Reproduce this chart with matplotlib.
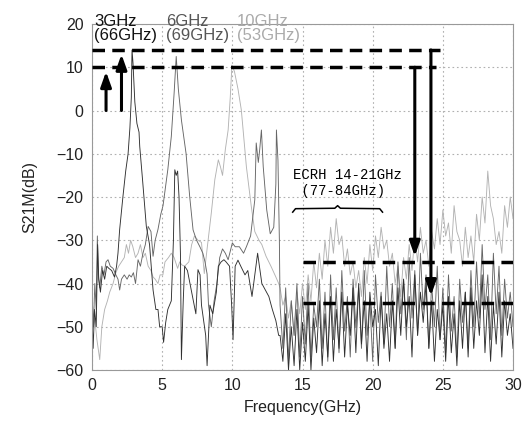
import numpy as np
import matplotlib
matplotlib.use("Agg")
import matplotlib.pyplot as plt

plt.rcParams["font.family"] = ["Liberation Sans", "DejaVu Sans"]

# ---------------------------------------------------------------------------
# Data (GHz, dB)
# ---------------------------------------------------------------------------

# 3 GHz filter, below the noisy band
f3_lo = [0.0, 0.08, 0.18, 0.3, 0.4, 0.48, 0.6, 0.75, 0.9, 1.05, 1.2, 1.4, 1.6,
         1.75, 1.85, 1.97, 2.2, 2.4, 2.57, 2.7, 2.8, 2.85, 2.92, 3.05, 3.2,
         3.35, 3.4, 3.6, 3.87, 4.1, 4.35, 4.55, 4.7, 4.82, 5.0, 5.1, 5.25,
         5.4, 5.65, 5.8, 5.9, 6.0, 6.1, 6.2, 6.3, 6.37, 6.5, 6.6, 6.8, 7.1,
         7.4, 7.55, 7.7, 7.8, 8.1, 8.2, 8.4, 8.6, 8.86, 9.0, 9.2, 9.4, 9.55,
         9.8, 9.95, 10.05, 10.2, 10.4, 10.6, 10.9, 11.1, 11.4, 11.6, 11.8,
         12.1, 12.35, 12.6, 12.85, 13.1, 13.3]
s3_lo = [-47, -55, -46, -50, -31, -39, -42, -37, -39, -36, -36.5, -37, -38.5,
         -36, -33, -27.5, -20, -14, -10, -4, 3, 14, 11, 2, -3,
         -5, -8.3, -16, -26.8, -31, -41.5, -46, -46, -50, -50, -53.6, -49,
         -46, -44, -30, -13.7, -15, -14, -20, -33, -57.6, -44, -36, -37, -42,
         -47, -36.8, -38, -45, -52, -59, -45, -47, -42, -36, -35, -34.5, -35,
         -36, -45, -53, -36, -34.6, -36, -38, -37, -43, -38, -33,
         -40, -41.5, -43, -46, -48.6, -52]

# 6 GHz filter, below the noisy band
f6_lo = [0.0, 0.1, 0.2, 0.3, 0.38, 0.45, 0.55, 0.7, 0.85, 1.0, 1.14, 1.3,
         1.5, 1.7, 1.85, 1.97, 2.1, 2.3, 2.5, 2.65, 2.8, 2.95, 3.1, 3.28,
         3.45, 3.63, 3.8, 4.0, 4.2, 4.35, 4.5, 4.7, 4.9, 5.06, 5.4, 5.65,
         5.85, 6.0, 6.15, 6.37, 6.7, 6.96, 7.2, 7.45, 7.67, 7.9, 8.05, 8.2,
         8.3, 8.5, 8.7, 8.9, 9.1, 9.3, 9.5, 9.7, 10.0, 10.2, 10.5, 10.8,
         11.0, 11.3, 11.6, 11.7, 11.85, 11.95, 12.07, 12.2, 12.45, 12.7,
         12.95, 13.1, 13.14, 13.25, 13.35]
s6_lo = [-42, -50, -40, -46, -29, -38, -41, -36, -38, -35, -34.5, -36,
         -36.5, -38, -39, -41.5, -39, -38, -39, -38, -38.5, -37.5, -40, -34.5,
         -36, -33, -31, -26.8, -28, -33.7, -30, -27.5, -24, -22, -13.7, -6,
         4, 12.5, 5, -2.2, -9.9, -19.9, -27.6, -30, -31.4, -33, -35, -37.8,
         -45, -50, -44, -40, -34, -32, -33, -34.5, -30.6, -31.5, -31.5, -33,
         -31.5, -29, -20.6, -7.5, -12, -9, -4.5, -13, -23, -28.5,
         -27, -17, -4.5, -11.5, -30]

# 10 GHz filter, below the noisy band
f10_lo = [0.0, 0.19, 0.35, 0.55, 0.7, 0.9, 1.1, 1.26, 1.5, 1.7, 1.9, 2.1,
          2.3, 2.45, 2.6, 2.75, 2.9, 3.1, 3.28, 3.45, 3.63, 3.8, 4.0, 4.2,
          4.35, 4.5, 4.7, 4.85, 5.05, 5.2, 5.45, 5.65, 5.85, 6.1, 6.25, 6.4,
          6.6, 6.9, 7.1, 7.3, 7.55, 7.8, 8.0, 8.2, 8.5, 8.75, 9.0, 9.15, 9.3,
          9.5, 9.7, 9.85, 9.97, 10.15, 10.4, 10.64, 11.0, 11.35, 11.6, 11.9,
          12.1, 12.4, 12.75, 13.1, 13.3]
s10_lo = [-52, -48, -53, -57.6, -50, -46, -44, -42, -40, -37.5, -36, -35,
          -34, -31, -33, -30, -31.4, -34, -33, -31, -34, -33, -36, -37,
          -38.5, -39, -40, -38, -38, -35, -34, -33, -34, -36.5, -35, -35.7,
          -36, -35, -31, -29, -30, -30.5, -37.7, -32, -23.7, -16, -11.4, -13, -15,
          -9, -4.5, 3, 10.5, 9, 5, 0.1, -13, -22.2, -28, -30,
          -31, -33.7, -36, -38.5, -40]

# noisy band 13.4 - 30 GHz, sampled every 0.2 GHz
f_hi = np.linspace(13.4, 30.0, 84)
s3_hi = [-52, -58, -47, -60, -50, -59, -46, -60,
         -49, -58, -45, -60, -48, -56, -44, -59, -47, -57,
         -43, -58, -46, -55, -42, -57, -45, -52, -41, -56,
         -40, -54, -44, -58, -42, -50, -46, -59, -43, -55,
         -47, -58, -44, -55, -41, -52, -39, -50, -43, -57,
         -38, -52, -42, -49, -40, -55, -44, -58, -46, -53,
         -45, -58, -43, -56, -47, -59, -44, -55, -42, -57,
         -41, -55, -44, -52, -38, -56, -43, -58, -45, -54,
         -42, -57, -44, -52, -47, -55]
s6_hi = [-45, -55, -41, -58, -44, -52, -40, -57,
         -43, -54, -40, -57, -45, -50, -39, -55, -42, -58,
         -38, -53, -41, -56, -37, -51, -43, -57, -39, -50,
         -41, -55, -37, -52, -44, -58, -38, -49, -42, -54,
         -36, -50, -40, -55, -35, -47, -39, -53, -34, -48,
         -37, -52, -33, -46, -38, -55, -40, -50, -36, -53,
         -41, -56, -38, -51, -43, -57, -39, -49, -42, -55,
         -37, -50, -35, -48, -31, -46, -38, -53, -33, -47,
         -36, -52, -39, -48, -42, -50]
s10_hi = [-41, -45, -43, -48, -44, -52, -42, -47,
          -40, -46, -38, -44, -35, -41, -33, -39, -30, -36,
          -27, -33, -25, -31, -29, -36, -32, -38, -35, -41,
          -37, -43, -34, -40, -31, -37, -29, -34, -27, -32,
          -30, -36, -33, -40, -36, -43, -34, -39, -31, -37,
          -29, -35, -27, -33, -30, -36, -28, -32, -25, -31,
          -23, -29, -26, -33, -22, -28, -30, -36, -27, -34,
          -29, -35, -24, -30, -20, -26, -14, -22, -25, -31,
          -28, -33, -22, -27, -20, -25]

# reference levels (dB) and their frequency spans (GHz)
pass_levels = [14, 10]
pass_span = [[0, 24.8], [0, 24.5]]
stop_levels = [-35, -44.5]
stop_span = [[15, 30], [15, 30]]

labels = ["3GHz\n(66GHz)", "6GHz\n(69GHz)", "10GHz\n(53GHz)"]
label_x = [0.15, 5.3, 10.3]
colors = ["#303030", "#666666", "#b3b3b3"]
label_colors = ["#111111", "#555555", "#aaaaaa"]


def main():
    fig = plt.figure(figsize=(5.27, 4.25), dpi=100)
    ax = fig.add_axes([0.1746, 0.1294, 0.7989, 0.8141])

    series = [(f3_lo, s3_lo, s3_hi), (f6_lo, s6_lo, s6_hi), (f10_lo, s10_lo, s10_hi)]
    # draw light first so darker traces sit on top
    for idx in [2, 1, 0]:
        f_lo, s_lo, s_hi = series[idx]
        f = np.concatenate([f_lo, f_hi])
        s = np.concatenate([s_lo, s_hi])
        ax.plot(f, s, color=colors[idx], lw=0.65, zorder=2)

    dash = (0, (3.6, 2.1))
    for lvl, (x0, x1) in zip(pass_levels, pass_span):
        ax.plot([x0, x1], [lvl, lvl], color="black", lw=2.5, linestyle=dash,
                zorder=4, clip_on=False)
    for lvl, (x0, x1) in zip(stop_levels, stop_span):
        ax.plot([x0, x1], [lvl, lvl], color="black", lw=2.5, linestyle=dash,
                zorder=4)

    arrow = dict(arrowstyle="-|>,head_length=0.9,head_width=0.32",
                 color="black", lw=2.2, shrinkA=0, shrinkB=0)
    # upward arrows
    ax.annotate("", xy=(1.0, 9.0), xytext=(1.0, 0), arrowprops=arrow, zorder=5)
    ax.annotate("", xy=(2.1, 13.0), xytext=(2.1, 0), arrowprops=arrow, zorder=5)
    # downward arrows
    ax.annotate("", xy=(23.0, -33.7), xytext=(23.0, 10), arrowprops=arrow, zorder=5)
    ax.annotate("", xy=(24.15, -42.8), xytext=(24.15, 14), arrowprops=arrow, zorder=5)

    for txt, x, c in zip(labels, label_x, label_colors):
        ax.text(x, 22.4, txt, color=c, fontsize=12, va="top", ha="left",
                linespacing=0.92, zorder=6, clip_on=False)

    ax.text(14.3, -13.4, "ECRH 14-21GHz\n (77-84GHz)", family="Liberation Mono",
            fontsize=10, ha="left", va="top", linespacing=1.1, zorder=6)
    ax.plot([14.3, 14.5, 17.3, 17.5, 17.7, 20.5, 20.7],
            [-23.5, -22.7, -22.6, -22.0, -22.6, -22.7, -23.5],
            color="black", lw=1.1, zorder=6)

    ax.set_xlim(0, 30)
    ax.set_ylim(-60, 20)
    ax.set_xticks(range(0, 31, 5))
    ax.set_yticks(range(-60, 21, 10))
    ax.tick_params(length=0, labelsize=11.5, pad=6, colors="#222222")
    ax.grid(True, linestyle=(0, (1.5, 2.5)), color="#b0b0b0", lw=0.8, zorder=0)
    for sp in ax.spines.values():
        sp.set_color("#999999")
        sp.set_linewidth(0.8)

    ax.set_xlabel("Frequency(GHz)", fontsize=11.5, labelpad=5, color="#222222")
    ax.set_ylabel("S21M(dB)", fontsize=11.5, labelpad=14, color="#222222")

    fig.savefig("out.png", dpi=100)


if __name__ == "__main__":
    main()
